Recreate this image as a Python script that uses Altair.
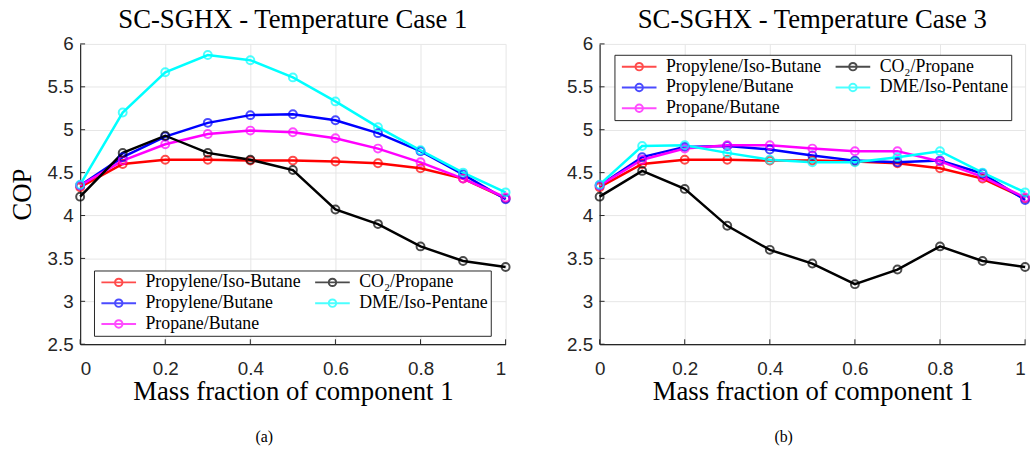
import altair as alt
import pandas as pd

x_vals = [0, 0.1, 0.2, 0.3, 0.4, 0.5, 0.6, 0.7, 0.8, 0.9, 1.0]

names = ["Propylene/Iso-Butane", "Propylene/Butane", "Propane/Butane", "CO₂/Propane", "DME/Iso-Pentane"]
colors = ["#ff0000", "#0000ff", "#ff00ff", "#000000", "#00ffff"]

# Temperature Case 1
c1_pib = [4.33, 4.60, 4.65, 4.65, 4.64, 4.64, 4.63, 4.61, 4.55, 4.43, 4.20]
c1_pb = [4.35, 4.68, 4.92, 5.08, 5.17, 5.18, 5.11, 4.96, 4.75, 4.48, 4.19]
c1_prb = [4.35, 4.64, 4.83, 4.95, 4.99, 4.97, 4.90, 4.78, 4.62, 4.43, 4.21]
c1_co2 = [4.22, 4.73, 4.93, 4.73, 4.65, 4.53, 4.07, 3.90, 3.64, 3.47, 3.40]
c1_dme = [4.36, 5.20, 5.67, 5.87, 5.81, 5.61, 5.33, 5.03, 4.76, 4.50, 4.27]

# Temperature Case 3
c3_pib = [4.33, 4.60, 4.65, 4.65, 4.64, 4.64, 4.63, 4.61, 4.55, 4.43, 4.20]
c3_pb = [4.35, 4.68, 4.80, 4.81, 4.77, 4.70, 4.64, 4.62, 4.64, 4.49, 4.18]
c3_prb = [4.35, 4.65, 4.78, 4.82, 4.82, 4.78, 4.75, 4.75, 4.63, 4.45, 4.21]
c3_co2 = [4.22, 4.52, 4.31, 3.88, 3.60, 3.44, 3.20, 3.37, 3.64, 3.47, 3.40]
c3_dme = [4.36, 4.81, 4.82, 4.73, 4.65, 4.62, 4.62, 4.68, 4.75, 4.50, 4.27]

y_ticks = [2.5, 3, 3.5, 4, 4.5, 5, 5.5, 6]
x_ticks = [0, 0.2, 0.4, 0.6, 0.8, 1]

titles = ["SC-SGHX - Temperature Case 1", "SC-SGHX - Temperature Case 3"]
captions = ["(a)", "(b)"]

W, H = 430, 303.5
SERIF = "Liberation Serif"
SANS = "Liberation Sans"

sym_path = "M-3.5,0L3.5,0M0.75,0A0.75,0.75,0,1,1,-0.75,0A0.75,0.75,0,1,1,0.75,0"


def make_df(series):
    rows = []
    for name, vals in zip(names, series):
        for xv, yv in zip(x_vals, vals):
            rows.append({"x": xv, "cop": yv, "series": name})
    return pd.DataFrame(rows)


def panel(series, title, caption, legend_x, legend_y, is_left):
    df = make_df(series)
    xs = alt.Scale(domain=[0, 1], nice=False, zero=False, padding=0)
    ys = alt.Scale(domain=[2.5, 6], nice=False, zero=False, padding=0)
    cs = alt.Scale(domain=names, range=colors)
    leg = alt.Legend(
        title=None, orient="none", legendX=legend_x, legendY=legend_y,
        columns=2, symbolType=sym_path, symbolSize=100, symbolStrokeWidth=2,
        symbolFillColor="transparent",
        labelFont=SERIF, labelFontSize=18, labelColor="black", labelLimit=400,
        strokeColor="#262626", fillColor="white", padding=3,
        rowPadding=3, columnPadding=10, labelOffset=18, symbolOffset=13,
    )
    if is_left:
        xaxis = alt.Axis(values=x_ticks, format="~g", title="Mass fraction of component 1",
                         labelPadding=16, titlePadding=0)
        yaxis = alt.Axis(values=y_ticks, format="~g", title="COP",
                         labelPadding=7, titlePadding=11)
    else:
        xaxis = alt.Axis(values=x_ticks, format="~g", title="Mass fraction of component 1",
                         labelPadding=16, titlePadding=0,
                         labelAlign={"condition": {"test": "datum.value == 1", "value": "right"},
                                     "value": "center"})
        yaxis = alt.Axis(values=y_ticks, format="~g", title=None, labelPadding=7)
    base = alt.Chart(df)
    lines = base.mark_line(strokeWidth=2.5).encode(
        x=alt.X("x:Q", scale=xs, axis=xaxis),
        y=alt.Y("cop:Q", scale=ys, axis=yaxis),
        color=alt.Color("series:N", scale=cs, legend=leg),
    )
    pts = base.mark_point(shape="circle", filled=False, size=64, strokeWidth=2).encode(
        x=alt.X("x:Q", scale=xs, axis=xaxis),
        y=alt.Y("cop:Q", scale=ys, axis=yaxis),
        color=alt.Color("series:N", scale=cs, legend=leg),
    )
    ytk = alt.Chart(pd.DataFrame({"cop": y_ticks})).mark_rule(color="#262626", strokeWidth=1).encode(
        y=alt.Y("cop:Q", scale=ys, axis=yaxis), x=alt.value(0), x2=alt.value(5))
    xtk = alt.Chart(pd.DataFrame({"x": x_ticks})).mark_rule(color="#262626", strokeWidth=1).encode(
        x=alt.X("x:Q", scale=xs, axis=xaxis), y=alt.value(H), y2=alt.value(H - 5))
    cap = alt.Chart(pd.DataFrame({"t": [caption]})).mark_text(
        font=SERIF, fontSize=16, color="black", align="center", baseline="middle"
    ).encode(text="t:N", x=alt.value(186), y=alt.value(397))
    return alt.layer(lines, pts, ytk, xtk, cap).properties(
        width=W, height=H,
        title=alt.Title(title, font=SERIF, fontSize=27, fontWeight="normal",
                        color="black", offset=1, frame="group"),
    )


left = panel([c1_pib, c1_pb, c1_prb, c1_co2, c1_dme], titles[0], captions[0], 14, 229, True)
right = panel([c3_pib, c3_pb, c3_prb, c3_co2, c3_dme], titles[1], captions[1], 15, 11, False)

chart = alt.hconcat(left, right, spacing=53).resolve_scale(color="independent").resolve_legend(
    color="independent"
).properties(
    padding={"left": 8, "top": 4, "right": 0, "bottom": 0}
).configure_view(stroke=None).configure_axis(
    domainColor="#262626", domainWidth=1.2, gridColor="#e6e6e6", gridWidth=1,
    ticks=False, labelFont=SANS, labelFontSize=19, labelColor="#262626",
    titleFont=SERIF, titleFontSize=27, titleFontWeight="normal", titleColor="black",
)

chart.save("out.html", embed_options={"renderer": "svg", "actions": False})
